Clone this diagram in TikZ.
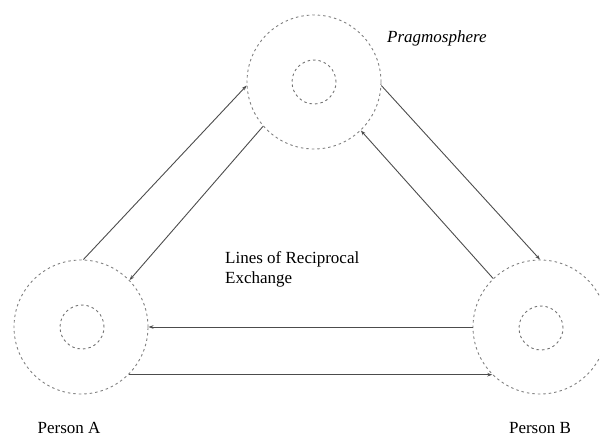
\documentclass[tikz,border=0pt]{standalone}
\usepackage{fontspec}
\setmainfont{Liberation Serif}
\usetikzlibrary{arrows.meta}
\begin{document}
\begin{tikzpicture}[x=1pt,y=-1pt,
  outerc/.style={circle,draw=black!50,dash pattern=on 2.5pt off 3pt,line width=0.9pt,minimum size=134pt,inner sep=0pt},
  innerc/.style={circle,draw=black!55,dash pattern=on 2.5pt off 3pt,line width=0.9pt,minimum size=44pt,inner sep=0pt},
  conn/.style={draw=black!70,line width=0.9pt,-{Stealth[length=5pt,width=3.5pt]}},
  lbl/.style={font=\fontsize{17}{20}\selectfont,inner sep=0pt}]
\useasboundingbox (0,0) rectangle (600,439);
\node[outerc] (P) at (314,82) {};
\node[innerc] (Pi) at (314,82) {};
\node[outerc] (A) at (81,327) {};
\node[innerc] (Ai) at (82,327) {};
\node[outerc] (B) at (540,327) {};
\node[innerc] (Bi) at (541,328) {};
\draw[conn] (A.88) -- (P.183);
\draw[conn] (P.221) -- (A.44);
\draw[conn] (P.357) -- (B.90);
\draw[conn] (B.134) -- (P.314);
\draw[conn] (B.180) -- (A.0);
\draw[conn] (A.315) -- (B.225);
\node[lbl,anchor=base west] (pr) at (387,42) {\itshape Pragmosphere};
\node[lbl,anchor=base] (pa) at (69,433) {Person A};
\node[lbl,anchor=base] (pb) at (540,433) {Person B};
\node[lbl,anchor=base west,align=left] (ex) at (225,283) {Lines of Reciprocal\\Exchange};
\end{tikzpicture}
\end{document}
